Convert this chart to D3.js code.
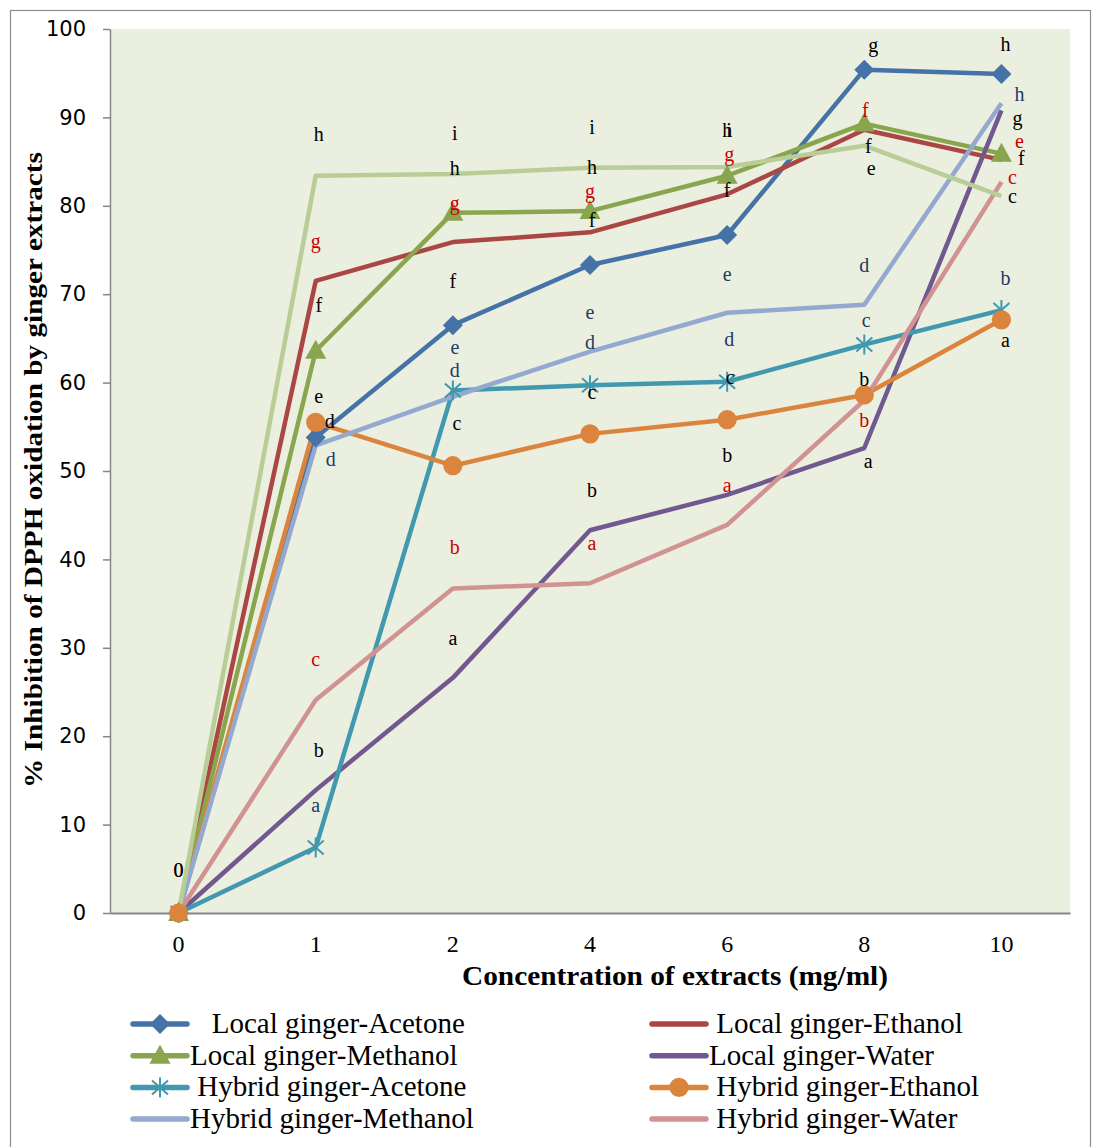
<!DOCTYPE html>
<html>
<head>
<meta charset="utf-8">
<script src="https://cdn.jsdelivr.net/npm/d3@7"></script>
<style>
  body { margin: 0; background: #fff; }
  text { white-space: pre; }
</style>
</head>
<body>
<div id="chart"></div>
<script>
// categorie (mg/ml) e valori
const categories = ["0", "1", "2", "4", "6", "8", "10"];
const yTicks = [0, 10, 20, 30, 40, 50, 60, 70, 80, 90, 100];

const localAcetone   = [0, 53.8, 66.5, 73.3, 76.7, 95.4, 94.9];
const localEthanol   = [0, 71.5, 75.9, 77.0, 81.3, 88.6, 85.2];
const localMethanol  = [0, 63.6, 79.2, 79.4, 83.4, 89.3, 85.9];
const localWater     = [0, 13.9, 26.6, 43.3, 47.3, 52.6, 90.8];
const hybridAcetone  = [0, 7.4, 59.1, 59.7, 60.1, 64.3, 68.2];
const hybridEthanol  = [0, 55.5, 50.6, 54.2, 55.8, 58.6, 67.1];
const hybridMethanol = [0, 52.9, 58.4, 63.5, 67.9, 68.8, 91.6];
const hybridWater    = [0, 24.1, 36.7, 37.3, 43.9, 58.0, 82.7];
const extraSeries    = [0, 83.4, 83.6, 84.3, 84.4, 86.8, 81.1]; // serie senza voce in legenda

const seriesNames = [
  "   Local ginger-Acetone", " Local ginger-Ethanol",
  "Local ginger-Methanol", "Local ginger-Water",
  " Hybrid ginger-Acetone", " Hybrid ginger-Ethanol",
  "Hybrid ginger-Methanol", " Hybrid ginger-Water"
];

// lettere di significatività: [categoria, valore, lettera, colore, spostamento px]
const letters = [
  ["0", 4.9, "0", "maroon", 0], ["0", 4.9, "0", "black", 0],
  ["1", 88.1, "h", "black", 3], ["1", 76.0, "g", "red", 0], ["1", 68.8, "f", "black", 3],
  ["1", 58.5, "e", "black", 3], ["1", 55.7, "d", "black", 14], ["1", 51.4, "d", "blue", 15],
  ["1", 28.7, "c", "red", 0], ["1", 18.4, "b", "black", 3], ["1", 12.2, "a", "blue", 0],
  ["2", 88.2, "i", "black", 2], ["2", 84.3, "h", "black", 2], ["2", 80.3, "g", "red", 2],
  ["2", 71.5, "f", "black", 0], ["2", 64.0, "e", "blue", 2], ["2", 61.4, "d", "blue", 2],
  ["2", 55.4, "c", "black", 4], ["2", 41.4, "b", "red", 2], ["2", 31.1, "a", "black", 0],
  ["4", 88.9, "i", "black", 2], ["4", 84.4, "h", "black", 2], ["4", 81.7, "g", "red", 0],
  ["4", 78.4, "f", "black", 2], ["4", 68.0, "e", "blue", 0], ["4", 64.6, "d", "blue", 0],
  ["4", 58.9, "c", "black", 2], ["4", 47.9, "b", "black", 2], ["4", 41.9, "a", "red", 2],
  ["6", 88.6, "h", "black", 0], ["6", 88.6, "i", "black", 2], ["6", 85.9, "g", "red", 2],
  ["6", 81.8, "f", "black", 0], ["6", 72.3, "e", "blue", 0], ["6", 64.9, "d", "blue", 2],
  ["6", 60.6, "c", "black", 3], ["6", 51.8, "b", "black", 0], ["6", 48.4, "a", "red", 0],
  ["8", 98.2, "g", "black", 9], ["8", 90.8, "f", "red", 1], ["8", 86.8, "f", "black", 4],
  ["8", 84.3, "e", "black", 7], ["8", 73.3, "d", "blue", 0], ["8", 67.1, "c", "blue", 2],
  ["8", 60.4, "b", "black", 0], ["8", 55.8, "b", "red", 0], ["8", 51.1, "a", "black", 4],
  ["10", 98.3, "h", "black", 4], ["10", 92.6, "h", "blue", 18], ["10", 89.9, "g", "black", 16],
  ["10", 87.3, "e", "red", 18], ["10", 85.4, "f", "black", 20], ["10", 83.3, "c", "red", 11],
  ["10", 81.1, "c", "black", 11], ["10", 71.8, "b", "blue", 4], ["10", 64.8, "a", "black", 4]
];

const seriesValues = [localAcetone, localEthanol, localMethanol, localWater,
  hybridAcetone, hybridEthanol, hybridMethanol, hybridWater, extraSeries];
const colors = ["#4572A7", "#AA4643", "#89A54E", "#71588F", "#4198AF",
  "#DB843D", "#93A9CF", "#D19392", "#B9CD96"];
const markers = ["diamond", null, "triangle", null, "star", "circle", null, null, null];
const letterColors = { black: "#000", red: "#CC0000", blue: "#1F3B63", maroon: "#5a0000" };

const width = 1094, height = 1147;
const plot = { left: 110, right: 1070, top: 29, bottom: 913 };

const svg = d3.select("#chart").append("svg")
  .attr("width", width)
  .attr("height", height);

// cornice esterna
svg.append("rect")
  .attr("x", 10.5).attr("y", 10.5)
  .attr("width", 1080).attr("height", 1160)
  .attr("fill", "#fff").attr("stroke", "#8c8c8c").attr("stroke-width", 1.2);

const x = d3.scaleBand().domain(categories).range([plot.left, plot.right]);
const y = d3.scaleLinear().domain([0, 100]).range([plot.bottom, plot.top]);
const cx = c => x(c) + x.bandwidth() / 2;

// sfondo area grafico
svg.append("rect")
  .attr("x", plot.left).attr("y", plot.top)
  .attr("width", plot.right - plot.left).attr("height", plot.bottom - plot.top)
  .attr("fill", "#EBEFDF");

// assi
const yAxis = svg.append("g")
  .attr("transform", `translate(${plot.left},0)`)
  .call(d3.axisLeft(y).tickValues(yTicks).tickSize(7).tickSizeOuter(0).tickPadding(17));
yAxis.selectAll("line, path").attr("stroke", "#868686").attr("stroke-width", 1.5);
yAxis.selectAll("text").attr("font-family", "DejaVu Sans").attr("font-size", 21).attr("fill", "#000");

const xAxis = svg.append("g")
  .attr("transform", `translate(0,${plot.bottom})`)
  .call(d3.axisBottom(x).tickSize(0).tickPadding(22));
xAxis.select(".domain").attr("stroke", "#868686").attr("stroke-width", 2);
xAxis.selectAll("text").attr("font-family", "Liberation Serif").attr("font-size", 24).attr("fill", "#000");

// titoli assi
svg.append("text")
  .attr("x", 675).attr("y", 985)
  .attr("text-anchor", "middle")
  .attr("font-family", "Liberation Serif").attr("font-weight", "bold").attr("font-size", 28)
  .attr("textLength", 426).attr("lengthAdjust", "spacingAndGlyphs")
  .text("Concentration of extracts (mg/ml)");

svg.append("text")
  .attr("transform", "translate(42,470) rotate(-90)")
  .attr("text-anchor", "middle")
  .attr("font-family", "Liberation Serif").attr("font-weight", "bold").attr("font-size", 25)
  .attr("textLength", 636).attr("lengthAdjust", "spacingAndGlyphs")
  .text("% Inhibition of DPPH oxidation by ginger extracts");

// marcatori
function markerPath(kind) {
  if (kind === "diamond") return "M0,-10L10,0L0,10L-10,0Z";
  if (kind === "triangle") return "M0,-11L10.5,8L-10.5,8Z";
  if (kind === "circle") return d3.symbol(d3.symbolCircle, 290)();
  if (kind === "star") return "M0,-10V10M-8,-7L8,7M-8,7L8,-7";
  return null;
}
function drawMarker(g, kind, color) {
  const p = g.append("path").attr("d", markerPath(kind));
  if (kind === "star") p.attr("fill", "none").attr("stroke", color).attr("stroke-width", 2);
  else p.attr("fill", color);
}

const line = d3.line()
  .x((d, i) => cx(categories[i]))
  .y(d => y(d));

// linee
seriesValues.forEach((vals, s) => {
  svg.append("path")
    .datum(vals)
    .attr("d", line)
    .attr("fill", "none")
    .attr("stroke", colors[s])
    .attr("stroke-width", 4.5)
    .attr("stroke-linejoin", "round");
});

// punti
seriesValues.forEach((vals, s) => {
  if (!markers[s]) return;
  vals.forEach((v, i) => {
    const g = svg.append("g").attr("transform", `translate(${cx(categories[i])},${y(v)})`);
    drawMarker(g, markers[s], colors[s]);
  });
});

// lettere
svg.append("g").selectAll("text")
  .data(letters)
  .join("text")
  .attr("x", d => cx(d[0]) + d[4])
  .attr("y", d => y(d[1]))
  .attr("dy", "0.35em")
  .attr("text-anchor", "middle")
  .attr("font-family", "Liberation Serif").attr("font-size", 20)
  .attr("fill", d => letterColors[d[3]])
  .text(d => d[2]);

// legenda
const legendCols = [133, 652], legendTop = 1024, legendStep = 31.7;
seriesNames.forEach((name, s) => {
  const col = s % 2, row = Math.floor(s / 2);
  const g = svg.append("g")
    .attr("transform", `translate(${legendCols[col]},${legendTop + row * legendStep})`);
  g.append("line")
    .attr("x1", 0).attr("x2", 54).attr("y1", 0).attr("y2", 0)
    .attr("stroke", colors[s]).attr("stroke-width", 5.5).attr("stroke-linecap", "round");
  if (markers[s]) drawMarker(g.append("g").attr("transform", "translate(27,0)"), markers[s], colors[s]);
  g.append("text")
    .attr("x", 57).attr("y", 9)
    .attr("font-family", "Liberation Serif").attr("font-size", 29)
    .text(name);
});
</script>
</body>
</html>
